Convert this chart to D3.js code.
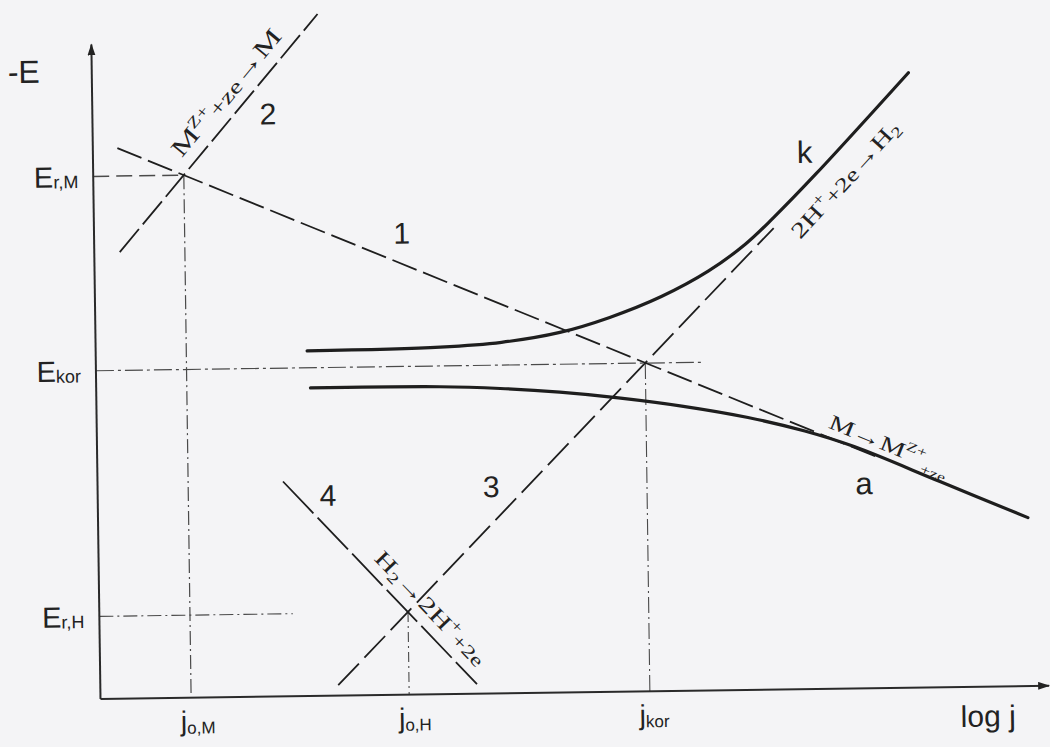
<!DOCTYPE html>
<html>
<head>
<meta charset="utf-8">
<script src="https://cdn.jsdelivr.net/npm/d3@7"></script>
<style>
  html, body { margin: 0; padding: 0; background: #f4f4f6; }
  svg { display: block; }
</style>
</head>
<body>
<svg id="chart" width="1050" height="747"></svg>
<script>
// Evans diagram for a corroding metal M in acid: -E against log j.

// log j axis markers (subscripts of j) and their positions
const logJLabels = ["o,M", "o,H", "kor"];
const logJValues = [0.96, 3.27, 5.82];

// -E axis markers (subscripts of E) and their levels
const eLabels = ["r,M", "kor", "r,H"];
const eValues = [8.04, 5.05, 1.27];

// Tafel lines 1-4 as [log j, -E] end points
const tafelIds = ["1", "2", "3", "4"];
const tafelStart = [[0.26, 8.47], [0.27, 6.87], [2.52, 0.16], [1.965, 3.306]];
const tafelEnd   = [[8.30, 3.53], [2.40, 10.49], [7.20, 7.10], [3.99, 0.147]];

// Measured polarisation curves: k (cathodic) and a (anodic)
const curveIds = ["k", "a"];
const curveK = [[2.24, 5.31], [3.65, 5.34], [4.30, 5.40], [4.92, 5.54], [5.45, 5.76],
                [6.00, 6.07], [6.50, 6.45], [6.90, 6.86], [7.20, 7.26], [7.66, 7.93], [8.65, 9.46]];
const curveA = [[2.27, 4.74], [3.64, 4.73], [4.28, 4.69], [4.91, 4.62], [5.53, 4.52],
                [6.20, 4.38], [6.90, 4.19], [7.50, 3.97], [8.02, 3.72], [8.93, 3.16], [9.85, 2.59]];

const svg = d3.select("#chart");
const x = d3.scaleLinear().domain([0, 10]).range([96, 1040]);
const y = d3.scaleLinear().domain([0, 10]).range([693, 43]);

const ink = "#1e1e1e";
const guideInk = "#4a4a4a";

const defs = svg.append("defs");
defs.append("marker")
  .attr("id", "arrow")
  .attr("viewBox", "0 0 12 8")
  .attr("refX", 11).attr("refY", 4)
  .attr("markerWidth", 12).attr("markerHeight", 8)
  .attr("markerUnits", "userSpaceOnUse")
  .attr("orient", "auto")
  .append("path").attr("d", "M0,0L12,4L0,8Z").attr("fill", "#222");

// whole figure sits very slightly tilted on the page
const root = svg.append("g").attr("transform", "rotate(-0.8 525 373)");

const seg = d3.line().x(d => x(d[0])).y(d => y(d[1]));

// ---- guide lines (dash-dot) ----
const guides = root.append("g").attr("fill", "none").attr("stroke", guideInk);
// E_r,M horizontal (dashed) and j_o,M vertical
guides.append("path").attr("d", seg([[0, eValues[0]], [logJValues[0], eValues[0]]]))
  .attr("stroke-width", 1.5).attr("stroke-dasharray", "16,7");
guides.append("path").attr("d", seg([[logJValues[0], eValues[0]], [logJValues[0], 0]]))
  .attr("stroke-width", 1.2).attr("stroke-dasharray", "14,4,2,4");
// E_kor horizontal and j_kor vertical
guides.append("path").attr("d", seg([[0, eValues[1]], [6.45, eValues[1]]]))
  .attr("stroke-width", 1.2).attr("stroke-dasharray", "18,4,3,4");
guides.append("path").attr("d", seg([[logJValues[2], eValues[1]], [logJValues[2], 0]]))
  .attr("stroke-width", 1.1).attr("stroke-dasharray", "16,4,2,4");
// E_r,H horizontal and j_o,H vertical
guides.append("path").attr("d", seg([[0, eValues[2]], [2.05, eValues[2]]]))
  .attr("stroke-width", 1.1).attr("stroke-dasharray", "14,4,2,4");
guides.append("path").attr("d", seg([[logJValues[1], eValues[2]], [logJValues[1], 0]]))
  .attr("stroke-width", 1.1).attr("stroke-dasharray", "10,4,2,4");

// ---- axes ----
const xAxis = d3.axisBottom(x).tickValues(logJValues).tickSize(0).tickSizeOuter(0).tickPadding(0).tickFormat(() => "");
const yAxis = d3.axisLeft(y).tickValues(eValues).tickSize(0).tickSizeOuter(0).tickPadding(0).tickFormat(() => "");

const gx = root.append("g").attr("transform", `translate(0,${y(0)})`).call(xAxis);
const gy = root.append("g").attr("transform", `translate(${x(0)},0)`).call(yAxis);
gx.select(".domain").remove();
gy.select(".domain").remove();

root.append("path").attr("d", seg([[0, 0], [10.05, 0]]))
  .attr("stroke", "#2a2a2a").attr("stroke-width", 2).attr("fill", "none")
  .attr("marker-end", "url(#arrow)");
root.append("path").attr("d", seg([[0, 0], [0, 10.07]]))
  .attr("stroke", "#2a2a2a").attr("stroke-width", 2).attr("fill", "none")
  .attr("marker-end", "url(#arrow)");

const sans = "'Liberation Sans', Arial, sans-serif";
const serif = "'Liberation Serif', 'Times New Roman', serif";

gx.selectAll(".tick text").each(function(d, i) {
  const t = d3.select(this)
    .attr("x", -11).attr("y", 33).attr("dy", null)
    .attr("text-anchor", "start")
    .attr("font-family", sans).attr("fill", "#222");
  t.append("tspan").attr("font-size", 28).text("j");
  t.append("tspan").attr("font-size", 17).attr("dy", 3).text(logJLabels[i]);
});
gy.selectAll(".tick text").each(function(d, i) {
  const t = d3.select(this)
    .attr("x", -15).attr("y", 10).attr("dy", null)
    .attr("text-anchor", "end")
    .attr("font-family", sans).attr("fill", "#222");
  t.append("tspan").attr("font-size", 29).text("E");
  t.append("tspan").attr("font-size", 18).attr("dy", 1).text(eLabels[i]);
});

root.append("text").attr("x", x(0) - 84).attr("y", 76)
  .attr("font-family", sans).attr("font-size", 32).attr("fill", "#222").text("-E");
root.append("text").attr("x", x(9.4)).attr("y", 733).attr("text-anchor", "middle")
  .attr("font-family", sans).attr("font-size", 30).attr("fill", "#222").text("log j");

// ---- Tafel lines ----
const tafelDash = ["26,7", "30,6", "30,8", "44,6"];
root.append("g").selectAll("path").data(tafelIds).join("path")
  .attr("d", (d, i) => seg([tafelStart[i], tafelEnd[i]]))
  .attr("fill", "none").attr("stroke", ink).attr("stroke-width", 1.8)
  .attr("stroke-dasharray", (d, i) => tafelDash[i]);

const tafelLabelAt = [[3.26, 7.11], [1.86, 8.97], [4.17, 3.19], [2.44, 3.09]];
root.append("g").selectAll("text").data(tafelIds).join("text")
  .attr("x", (d, i) => x(tafelLabelAt[i][0])).attr("y", (d, i) => y(tafelLabelAt[i][1]) + 11)
  .attr("text-anchor", "middle").attr("font-family", sans).attr("font-size", 30)
  .attr("fill", "#222").text(d => d);

// ---- polarisation curves ----
const smooth = d3.line().x(d => x(d[0])).y(d => y(d[1])).curve(d3.curveCatmullRom.alpha(0.5));
root.append("g").selectAll("path").data([curveK, curveA]).join("path")
  .attr("d", smooth).attr("fill", "none").attr("stroke", ink).attr("stroke-width", 3.2)
  .attr("stroke-linecap", "round");

const curveLabelAt = [[7.54, 8.25], [8.12, 3.14]];
root.append("g").selectAll("text").data(curveIds).join("text")
  .attr("x", (d, i) => x(curveLabelAt[i][0])).attr("y", (d, i) => y(curveLabelAt[i][1]) + 10)
  .attr("text-anchor", "middle").attr("font-family", sans).attr("font-size", 31)
  .attr("fill", "#222").text(d => d);

// ---- reaction labels written along the lines ----
function angleOf(a, b) {
  return Math.atan2(y(b[1]) - y(a[1]), x(b[0]) - x(a[0])) * 180 / Math.PI;
}
// parts: [text, size, shift] where shift is the offset from the baseline (px, down positive)
const reactions = [
  { at: [0.94, 8.30], angle: angleOf(tafelStart[1], tafelEnd[1]), len: 158,
    parts: [["M", 24, 0], ["Z+", 15, -9], ["+ze", 20, 2], ["→M", 24, 0]] },
  { at: [7.48, 6.91], angle: -47, len: 150,
    parts: [["2H", 22, 0], ["+", 15, -9], ["+2e", 20, 1], ["→H", 22, 0], ["2", 15, 4]] },
  { at: [2.91, 2.09], angle: angleOf(tafelStart[3], tafelEnd[3]), len: 150,
    parts: [["H", 22, 0], ["2", 15, 4], ["→2H", 22, 0], ["+", 15, -9], ["+2e", 18, 1]] },
  { at: [7.74, 4.02], angle: angleOf(tafelStart[0], tafelEnd[0]), len: 128,
    parts: [["M→M", 21, 0], ["Z+", 13, -9], ["+ze", 13, 7]] }
];

reactions.forEach(r => {
  const g = root.append("g");
  const t = g.append("text").attr("font-family", serif).attr("fill", "#222");
  let prev = 0;
  r.parts.forEach(([s, size, shift]) => {
    t.append("tspan").attr("font-size", size).attr("dy", shift - prev).text(s);
    prev = shift;
  });
  const w = t.node().getComputedTextLength();
  g.attr("transform", `translate(${x(r.at[0])},${y(r.at[1])}) rotate(${r.angle}) scale(${r.len / w},1)`);
});
</script>
</body>
</html>
